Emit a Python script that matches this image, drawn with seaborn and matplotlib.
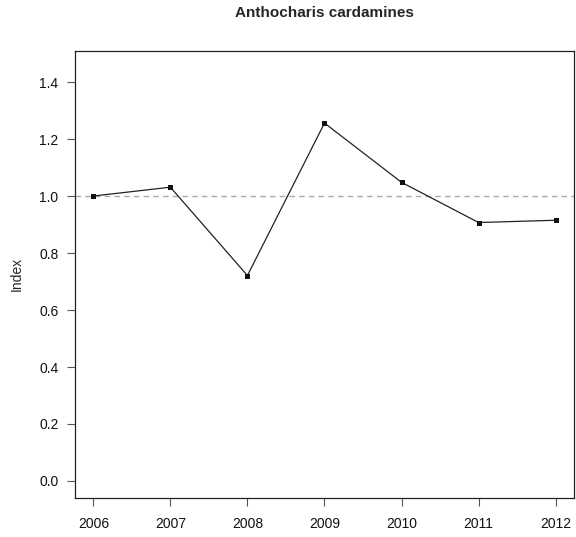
import numpy as np
import pandas as pd
import seaborn as sns
import matplotlib
matplotlib.use("Agg")
import matplotlib.pyplot as plt

years = [2006, 2007, 2008, 2009, 2010, 2011, 2012]
index_vals = [1.000, 1.031, 0.721, 1.256, 1.048, 0.907, 0.915]
y_ticks = [0.0, 0.2, 0.4, 0.6, 0.8, 1.0, 1.2, 1.4]

sns.set_style("ticks")
plt.rcParams['font.family'] = ['Liberation Sans', 'DejaVu Sans']

df = pd.DataFrame({"Year": years, "Index": index_vals})

fig = plt.figure(figsize=(5.76, 5.37), dpi=100)
ax = fig.add_axes([0.1307, 0.0732, 0.8653, 0.8324])

ax.axhline(1.0, color="#aaaaaa", linestyle=(0, (4, 3)), linewidth=1.0, zorder=1)
sns.lineplot(data=df, x="Year", y="Index", ax=ax, color="#222222", linewidth=0.9,
             marker="s", markersize=3.6, markeredgewidth=0, markerfacecolor="#111111")

ax.set_xlim(2005.766, 2012.234)
ax.set_ylim(-0.0586, 1.51)
ax.set_xticks(years)
ax.set_xticklabels([str(y) for y in years])
ax.set_yticks(y_ticks)
ax.set_yticklabels(["%.1f" % v for v in y_ticks])
ax.tick_params(direction="out", length=6, width=0.8, color="#555555",
               labelsize=10, pad=6, labelcolor="#111111")
ax.tick_params(axis="x", pad=8)
for s in ax.spines.values():
    s.set_visible(True)
    s.set_linewidth(0.9)
    s.set_color("#222222")

ax.set_xlabel("")
ax.set_ylabel("Index", fontsize=10, labelpad=11)
ax.set_title("Anthocharis cardamines", fontsize=11, fontweight="bold", pad=24)

fig.savefig("out.png", dpi=100)
